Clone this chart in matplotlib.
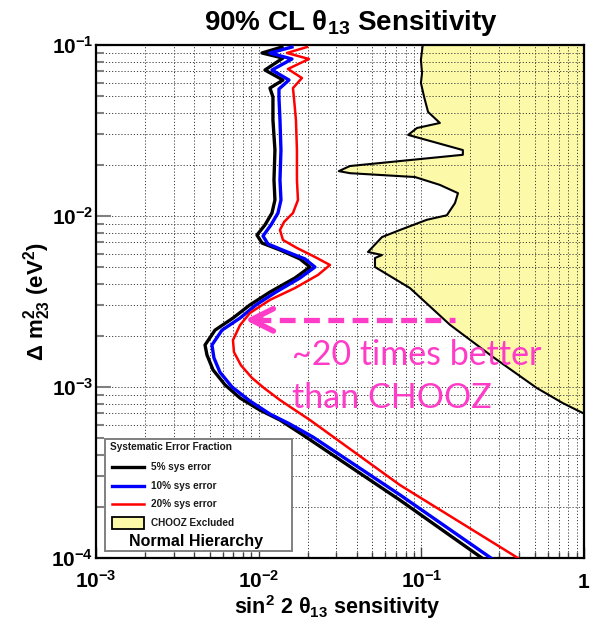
import math
import matplotlib
matplotlib.use("Agg")
import matplotlib.pyplot as plt
from matplotlib.patches import Rectangle
from matplotlib.ticker import FuncFormatter, LogLocator, NullFormatter

plt.rcParams['font.family'] = ['Liberation Sans', 'DejaVu Sans']
plt.rcParams['mathtext.fontset'] = 'custom'
plt.rcParams['mathtext.rm'] = 'Liberation Sans'
plt.rcParams['mathtext.bf'] = 'Liberation Sans:bold'
plt.rcParams['mathtext.it'] = 'Liberation Sans:italic'
plt.rcParams['mathtext.sf'] = 'Liberation Sans'

# ---- sensitivity curves: sin^2(2 theta13) vs Delta m^2_23 ----
sin2_5pct = [0.01391, 0.01048, 0.01411, 0.01093, 0.01411, 0.01173, 0.01224, 0.01224,
             0.01259, 0.01242, 0.01259, 0.01207, 0.01093, 0.00976, 0.01048, 0.01352,
             0.01794, 0.02067, 0.01671, 0.01173, 0.00884, 0.00695, 0.00539, 0.00468,
             0.00481, 0.00524, 0.00621, 0.00768, 0.01018, 0.01352, 0.01872, 0.07389,
             0.2358]
dm2_5pct = [0.0973, 0.0898, 0.0839, 0.0714, 0.0624, 0.0560, 0.0497, 0.0364,
            0.0243, 0.01624, 0.01240, 0.01041, 0.00886, 0.00774, 0.00695, 0.00633,
            0.00561, 0.00503, 0.00434, 0.00359, 0.00302, 0.00253, 0.00215, 0.00176,
            0.00154, 0.00126, 0.00103, 0.000862, 0.000733, 0.000641, 0.000524, 0.000218,
            0.0001]

sin2_10pct = [0.01602, 0.01173, 0.01602, 0.01207, 0.01536, 0.01333, 0.01333, 0.01352,
              0.01371, 0.01352, 0.01371, 0.01314, 0.01190, 0.01063, 0.01141, 0.01451,
              0.01925, 0.02218, 0.01794, 0.01277, 0.00963, 0.00768, 0.00595, 0.00516,
              0.00531, 0.00578, 0.00686, 0.00884, 0.01173, 0.01557, 0.02156, 0.07389,
              0.2678]
dm2_10pct = [0.0973, 0.0898, 0.0828, 0.0714, 0.0624, 0.0553, 0.0490, 0.0364,
             0.0243, 0.01624, 0.01240, 0.01041, 0.00886, 0.00764, 0.00686, 0.00624,
             0.00561, 0.00503, 0.00434, 0.00359, 0.00302, 0.00253, 0.00215, 0.00176,
             0.00148, 0.00122, 0.00100, 0.000828, 0.000695, 0.000607, 0.000510, 0.000234,
             0.0001]

sin2_20pct = [0.01981, 0.01493, 0.02038, 0.01514, 0.01845, 0.01625, 0.01648, 0.01695,
              0.01719, 0.01719, 0.01744, 0.01625, 0.01431, 0.01352, 0.01411, 0.01719,
              0.02218, 0.02743, 0.02314, 0.01671, 0.01173, 0.00884, 0.00768, 0.00695,
              0.00705, 0.00778, 0.00910, 0.01078, 0.01352, 0.01671, 0.02067, 0.07389,
              0.3924]
dm2_20pct = [0.0973, 0.0898, 0.0828, 0.0724, 0.0641, 0.0560, 0.0490, 0.0364,
             0.0243, 0.01624, 0.01240, 0.01041, 0.00922, 0.00828, 0.00724, 0.00650,
             0.00576, 0.00517, 0.00452, 0.00379, 0.00323, 0.00271, 0.00230, 0.00188,
             0.00160, 0.00134, 0.00113, 0.000987, 0.000839, 0.000733, 0.000641, 0.000267,
             0.0001]

# ---- CHOOZ excluded region boundary ----
chooz_sin2 = [0.102, 0.0994, 0.101, 0.0994, 0.104, 0.110, 0.130, 0.094, 0.083, 0.180,
              0.180, 0.0364, 0.0311, 0.0364, 0.0914, 0.130, 0.168, 0.161, 0.1435, 0.108,
              0.0738, 0.0573, 0.047, 0.0573, 0.0519, 0.0519, 0.0851, 0.150, 0.275, 0.513,
              0.741, 0.984]
chooz_dm2 = [0.1, 0.0818, 0.0686, 0.060, 0.0497, 0.0406, 0.035, 0.0327, 0.0298, 0.0243,
             0.0228, 0.0196, 0.0183, 0.0178, 0.0169, 0.0152, 0.0136, 0.0119, 0.0101, 0.0095,
             0.00828, 0.00753, 0.00616, 0.00591, 0.00568, 0.00503, 0.00379, 0.00231, 0.00150,
             0.000986, 0.000805, 0.000704]

series_labels = ['5% sys error', '10% sys error', '20% sys error']
series_colors = ['black', '#0000ff', '#ff0000']
series_widths = [2.4, 2.4, 1.8]

arrow_dm2 = 0.00247
arrow_from = 0.161
arrow_to = 0.00823

yellow = '#fcf9a8'
magenta = '#ff3cc8'

fig = plt.figure(figsize=(5.98, 6.22), dpi=100)
ax = fig.add_axes([96 / 598, 1 - 558 / 622, 488 / 598, 513 / 622])
ax.set_xscale('log')
ax.set_yscale('log')
ax.set_xlim(1e-3, 1)
ax.set_ylim(1e-4, 1e-1)

# CHOOZ exclusion
ax.fill_betweenx(chooz_dm2, chooz_sin2, 1.0, color=yellow, lw=0, zorder=1)
ax.plot(chooz_sin2, chooz_dm2, color='black', lw=1.5, zorder=2)

for xs, ys, c, w in zip([sin2_5pct, sin2_10pct, sin2_20pct],
                        [dm2_5pct, dm2_10pct, dm2_20pct],
                        series_colors, series_widths):
    ax.plot(xs, ys, color=c, lw=w, zorder=3, solid_joinstyle='round')

# grid and ticks
ax.grid(which='both', linestyle=(0, (1.2, 2.0)), color='#404040', lw=0.7)
for axis in (ax.xaxis, ax.yaxis):
    axis.set_major_locator(LogLocator(base=10, numticks=10))
    axis.set_minor_locator(LogLocator(base=10, subs=range(2, 10), numticks=30))
    axis.set_minor_formatter(NullFormatter())


def fmt(v, pos):
    e = int(round(math.log10(v)))
    if e == 0:
        return r'$\mathbf{1}$'
    return r'$\mathbf{10^{%d}}$' % e


ax.xaxis.set_major_formatter(FuncFormatter(fmt))
ax.yaxis.set_major_formatter(FuncFormatter(fmt))
ax.tick_params(axis='y', which='major', direction='in', length=11, width=1.5,
               color='#808080', labelsize=15, pad=2, right=False)
ax.tick_params(axis='y', which='minor', direction='in', length=6, width=1.5,
               color='#808080', right=False)
ax.tick_params(axis='x', which='major', direction='in', length=8, width=1,
               color='#404040', labelsize=15, pad=21.5, top=False)
ax.tick_params(axis='x', which='minor', direction='in', length=4.5, width=1,
               color='#404040', top=False)
for lab in ax.get_xticklabels():
    lab.set_verticalalignment('baseline')
for sp in ax.spines.values():
    sp.set_linewidth(1.6)

# legend box
L = ax.transAxes
ax.add_patch(Rectangle((0.0184, 0.0136), 0.3832, 0.2184, transform=L, facecolor='white',
                       edgecolor='#808080', lw=1.4, zorder=5))
ax.text(0.0287, 0.2164, 'Systematic Error Fraction', transform=L, fontsize=7.2,
        fontweight='bold', va='center', ha='left', color='#1a1a1a', zorder=6)
for yy, lab, c, w in zip([0.178, 0.1409, 0.1053], series_labels, series_colors, series_widths):
    ax.plot([0.0328, 0.0984], [yy, yy], transform=L, color=c, lw=w, zorder=6)
    ax.text(0.1137, yy, lab, transform=L, fontsize=7.2, fontweight='bold', va='center',
            ha='left', color='#1a1a1a', zorder=6)
ax.add_patch(Rectangle((0.0328, 0.0565), 0.0656, 0.0234, transform=L, facecolor=yellow,
                       edgecolor='black', lw=1.3, zorder=6))
ax.text(0.1137, 0.0682, 'CHOOZ Excluded', transform=L, fontsize=7.2, fontweight='bold',
        va='center', ha='left', color='#1a1a1a', zorder=6)
ax.text(0.2039, 0.0331, 'Normal Hierarchy', transform=L, fontsize=11.5, fontweight='bold',
        va='center', ha='center', color='black', zorder=6)

# improvement arrow and note
ax.plot([0.0095, arrow_from], [arrow_dm2, arrow_dm2], color=magenta, lw=3.8,
        dashes=(3, 1.6), solid_capstyle='butt', zorder=4)
ax.annotate('', xy=(arrow_to, arrow_dm2), xytext=(0.0105, arrow_dm2),
            arrowprops=dict(arrowstyle='->,head_length=1.6,head_width=0.8', color=magenta,
                            lw=4.0, shrinkA=0, shrinkB=0, mutation_scale=10), zorder=4)
ax.text(0.4016, 0.3762, '~20 times better', transform=L, fontsize=24.5, family='Lato',
        color=magenta, va='baseline', ha='left', zorder=4)
ax.text(0.4016, 0.2924, 'than CHOOZ', transform=L, fontsize=24.5, family='Lato',
        color=magenta, va='baseline', ha='left', zorder=4)

# titles
fig.text(351 / 598, 1 - 30 / 622, r'90% CL θ$_{\mathbf{13}}$ Sensitivity', fontsize=20,
         fontweight='bold', ha='center', va='baseline')
fig.text(337.5 / 598, 1 - 614 / 622, r'sin$^{\mathbf{2}}$ 2 θ$_{\mathbf{13}}$ sensitivity',
         fontsize=15.5, fontweight='bold', ha='center', va='baseline')
fig.text(37 / 598, 1 - 302 / 622,
         r'Δ $\mathbf{m}^{\mathbf{2}}_{\mathbf{23}}$ (eV$^{\mathbf{2}}$)',
         fontsize=16, fontweight='bold', ha='center', va='center', rotation=90)

fig.savefig('out.png', dpi=100)
